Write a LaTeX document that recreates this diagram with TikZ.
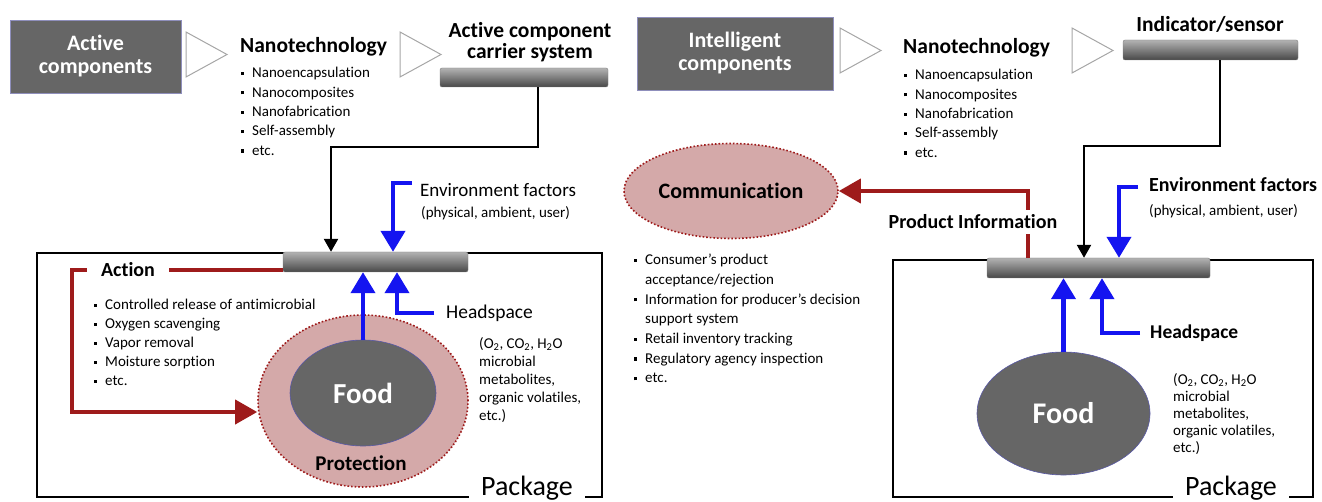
\documentclass[tikz,border=0pt]{standalone}
\usepackage{fontspec}
\setmainfont{Carlito}[Ligatures=NoCommon]
\usetikzlibrary{arrows.meta, positioning, shapes.geometric}
\definecolor{boxgray}{HTML}{666666}
\definecolor{pinkfill}{HTML}{D4A9A9}
\definecolor{darkred}{HTML}{9E1B1B}
\definecolor{arrowblue}{HTML}{1414F0}
\newcommand{\bl}{\makebox[11pt][l]{\rule[0.18em]{3.2pt}{3.2pt}}}
\newcommand{\nb}{\makebox[11pt][l]{}}

\begin{document}
\begin{tikzpicture}[x=1pt, y=-1pt,
darkbox/.style={draw=blue!25!gray!70,
line width=0.8pt,
fill=boxgray,
text=white,
font=\fontsize{22}{23}\selectfont\bfseries,
align=center},
tri/.style={draw=gray!70, line width=1pt, fill=white},
bar/.style={rectangle, rounded corners=2pt, draw=black!50,
top color=black!30, middle color=black!55, bottom color=black!72},
listtxt/.style={anchor=north west, inner sep=0pt, align=left,
font=\fontsize{15}{19.4}\selectfont},
headtxt/.style={font=\fontsize{21.5}{23}\selectfont\bfseries},
pinkell/.style={ellipse, draw=darkred, dotted, line width=1.6pt, fill=pinkfill},
foodell/.style={ellipse, draw=blue!30!gray, line width=0.6pt, fill=black!60,
text=white, font=\fontsize{29}{30}\selectfont\bfseries},
pkg/.style={draw=black, line width=1.8pt},
packlbl/.style={font=\fontsize{28}{30}\selectfont, fill=white,
inner xsep=12pt, inner ysep=1pt, anchor=base},
blkarrow/.style={draw=black, line width=2.4pt, -{Triangle[width=14pt, length=13pt]}},
bluearrow/.style={draw=arrowblue, line width=4.2pt, -{Triangle[width=24pt, length=21pt]}},
redarrow/.style={draw=darkred, line width=3.8pt, -{Triangle[width=24pt, length=22pt]}},
redline/.style={draw=darkred, line width=3.8pt}
]
\useasboundingbox (0,0) rectangle (1322,502);

% active packaging
\node[darkbox, minimum width=171pt, minimum height=73pt] (actcomp) at (95.5,56.5) {Active\\components};
\draw[tri] (186,32) -- (227,54.5) -- (186,77) -- cycle;
\node[headtxt, anchor=west, inner sep=0pt] (nano1) at (240,47) {Nanotechnology};
\node[listtxt] (nanolist1) at (241,67) {\bl Nanoencapsulation\\ \bl Nanocomposites\\ \bl Nanofabrication\\ \bl Self-assembly\\ \bl etc.};
\draw[tri] (400,32) -- (441,54.5) -- (400,77) -- cycle;
\node[headtxt, align=center, font=\fontsize{21.5}{21}\selectfont\bfseries] (carriertxt) at (530,42) {Active component\\carrier system};
\node[bar, minimum width=168pt, minimum height=19pt] (carrier) at (524,77.5) {};

\draw[pkg] (37,253) rectangle (602,497);
\node[packlbl] (pack1) at (527,495) {Package};
\node[bar, minimum width=185pt, minimum height=20pt] (actbar) at (375.5,262) {};
\draw[blkarrow] ([xshift=14pt]carrier.south) -- ++(0,60) -| ([xshift=-44.5pt]actbar.north);

\coordinate (envstart1) at (412,183);
\draw[bluearrow] (envstart1) -| ([xshift=17.5pt]actbar.north);
\node[anchor=west, font=\fontsize{19}{20}\selectfont, inner sep=0pt] (env1) at (420,190) {Environment factors};
\node[anchor=west, font=\fontsize{15}{16}\selectfont, inner sep=0pt] (envsub1) at (421,213) {(physical, ambient, user)};

\node[pinkell, minimum width=210pt, minimum height=172pt] (prot) at (363,401) {};
\node[foodell, minimum width=146pt, minimum height=106pt] (food1) at (363,393) {Food};
\node[font=\fontsize{21}{22}\selectfont\bfseries] (protlbl) at (361,463) {Protection};
\draw[bluearrow] (food1.north) -- (food1.north |- actbar.south);
\node[anchor=west, font=\fontsize{19.5}{20}\selectfont, inner xsep=12pt] (head1) at (434,313) {Headspace};
\draw[bluearrow] (head1.west) -| ([xshift=21.5pt]actbar.south);
\node[listtxt, font=\fontsize{15}{18}\selectfont] (gas1) at (479,337) {(O\textsubscript{2}, CO\textsubscript{2}, H\textsubscript{2}O\\microbial\\metabolites,\\organic volatiles,\\etc.)};

\node[font=\fontsize{20}{21}\selectfont\bfseries, inner xsep=14pt] (action) at (128,270) {Action};
\draw[redline] ([yshift=-8pt]actbar.west) -- (action.east);
\coordinate (actturn) at (72,412);
\draw[redarrow] (action.west) -| (actturn) -- (actturn -| prot.west);
\node[listtxt, font=\fontsize{15}{19}\selectfont] (actlist) at (94,299) {\bl Controlled release of antimicrobial\\ \bl Oxygen scavenging\\ \bl Vapor removal\\ \bl Moisture sorption\\ \bl etc.};

% intelligent packaging
\node[darkbox, minimum width=196pt, minimum height=73pt] (intcomp) at (735,53.5) {Intelligent\\components};
\draw[tri] (840,28) -- (881,50.5) -- (840,73) -- cycle;
\node[headtxt, anchor=west, inner sep=0pt] (nano2) at (903,48) {Nanotechnology};
\node[listtxt] (nanolist2) at (904,69) {\bl Nanoencapsulation\\ \bl Nanocomposites\\ \bl Nanofabrication\\ \bl Self-assembly\\ \bl etc.};
\draw[tri] (1072,28) -- (1113,50.5) -- (1072,73) -- cycle;
\node[headtxt] (sensortxt) at (1210,24) {Indicator/sensor};
\node[bar, minimum width=175pt, minimum height=20pt] (sensor) at (1210.5,50) {};

\draw[pkg] (893,260) rectangle (1313,497);
\node[packlbl] (pack2) at (1231,495) {Package};
\node[bar, minimum width=223pt, minimum height=20pt] (indbar) at (1098.5,268) {};
\draw[blkarrow] ([xshift=9.5pt]sensor.south) -- ++(0,86) -| ([xshift=-14.5pt]indbar.north);

\coordinate (envstart2) at (1138,187);
\draw[bluearrow] (envstart2) -| ([xshift=20.5pt]indbar.north);
\node[anchor=west, font=\fontsize{20}{21}\selectfont\bfseries, inner sep=0pt] (env2) at (1149,185) {Environment factors};
\node[anchor=west, font=\fontsize{15}{16}\selectfont, inner sep=0pt] (envsub2) at (1149,211) {(physical, ambient, user)};

\node[foodell, minimum width=173pt, minimum height=123pt, font=\fontsize{30}{31}\selectfont\bfseries] (food2) at (1063.5,413.5) {Food};
\draw[bluearrow] (food2.north) -- (food2.north |- indbar.south);
\node[anchor=west, font=\fontsize{19.5}{20}\selectfont\bfseries, inner xsep=10pt] (head2) at (1140,333) {Headspace};
\draw[bluearrow] (head2.west) -| ([xshift=3.5pt]indbar.south);
\node[listtxt, font=\fontsize{15}{17}\selectfont] (gas2) at (1173,373) {(O\textsubscript{2}, CO\textsubscript{2}, H\textsubscript{2}O\\microbial\\metabolites,\\organic volatiles,\\etc.)};

\node[pinkell, minimum width=181pt, minimum height=95pt, font=\fontsize{22}{23}\selectfont\bfseries] (comm) at (731,191) {Communication};
\draw[redarrow] ([xshift=-70.5pt]indbar.north) |- (comm.east);
\node[font=\fontsize{20}{21}\selectfont\bfseries, fill=white, inner ysep=5pt, inner xsep=2pt] (prodinfo) at (973,222) {Product Information};
\node[listtxt, font=\fontsize{15}{19.7}\selectfont] (commlist) at (634,254) {\bl Consumer’s product\\ \nb acceptance/rejection\\ \bl Information for producer’s decision\\ \nb support system\\ \bl Retail inventory tracking\\ \bl Regulatory agency inspection\\ \bl etc.};

\end{tikzpicture}
\end{document}
